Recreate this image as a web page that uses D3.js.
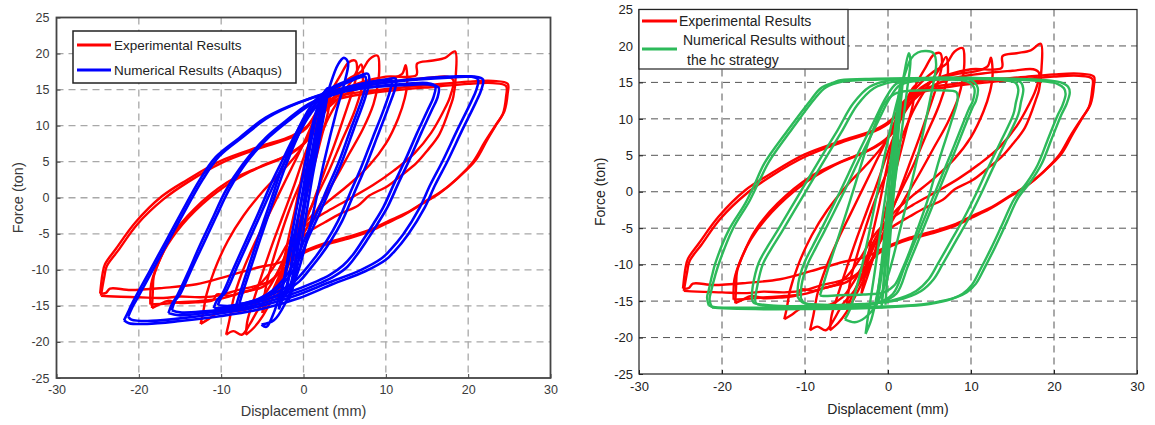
<!DOCTYPE html>
<html><head><meta charset="utf-8">
<script src="https://cdn.jsdelivr.net/npm/d3@7"></script>
<style>
body{margin:0;background:#fff;}
svg{display:block;font-family:"Liberation Sans",Arial,sans-serif;}
</style></head>
<body><svg id="c" width="1155" height="425"></svg>
<script>
// ---------- DATA ----------
const xTicks = [-30,-20,-10,0,10,20,30];
const yTicks = [-25,-20,-15,-10,-5,0,5,10,15,20,25];
const xLabel = "Displacement (mm)";
const yLabel = "Force (ton)";
const legendLeft = ["Experimental Results", "Numerical Results (Abaqus)"];
const legendRight = ["Experimental Results", "Numerical Results without", "the hc strategy"];

// Experimental results: cycles of [displacement, force]
const expR1a = [[-24.7,-13.3],[-24.4,-10.5],[-24.1,-9.2],[-22.8,-7.1],[-20.4,-3.4],[-17.2,0.2],[-14.1,2.5],[-10.1,5.1],[-5.3,7.1],[-1.4,8.6],[0.5,10],[2,12.5],[4,14],[8,14.8],[12,15.3],[16,15.7],[20,16.1],[23,16.2],[24.8,15.8],[24.8,14.5],[24.4,12],[23.5,10.3],[22.3,8],[20.9,5.2],[18.9,2.9],[16.9,1],[14.5,-0.7],[12.5,-2.1],[10.2,-3.3],[8.2,-4.4],[5.5,-5.4],[2.6,-6.3],[0.5,-7.2],[-1,-8],[-2,-8.6],[-3.5,-9.2],[-5.3,-9.6],[-9.3,-10.9],[-13,-12],[-17,-12.5],[-21,-12.8],[-23.5,-12.6],[-24,-13.2],[-24.7,-13.3]];
const expR1b = [[-24.6,-13.6],[-24.2,-11],[-23.9,-9.5],[-22.5,-7.3],[-20.2,-3.7],[-17,-0.2],[-14,2.2],[-10,4.8],[-5.5,6.8],[-1.6,8.3],[0.3,9.6],[1.8,12],[4,13.6],[8,14.5],[12,15],[16,15.4],[20,15.8],[23,15.9],[24.6,15.5],[24.6,14],[24.2,11.6],[23.3,10],[22,7.7],[20.6,5],[18.6,2.6],[16.6,0.7],[14.2,-1],[12.2,-2.4],[10,-3.6],[8,-4.7],[5.3,-5.7],[2.4,-6.6],[0.3,-7.5],[-1.2,-8.5],[-2.5,-10],[-4,-11.5],[-6,-12.3],[-8,-12.8],[-10,-13.5],[-12.5,-13.8],[-15,-13.7],[-17,-13.9],[-20,-13.8],[-23,-13.7],[-24.6,-13.6]];
const expR2a = [[-18.4,-15.3],[-18.3,-13],[-18.2,-11],[-17.6,-9],[-16,-5.3],[-13.3,-1.6],[-9.3,2.1],[-5.3,4.3],[-1.4,6.2],[0.5,8],[2,11],[3.5,13.5],[5,15],[7,16],[10,16.8],[13.7,17],[13.8,18.6],[15.5,19],[17.2,19.4],[18.4,20.3],[18.5,17],[18.2,14],[17.9,12.9],[16.5,8.8],[15,6.5],[13.7,4.8],[12,3.2],[10.2,1.6],[8,0.3],[6.6,-1.1],[4.5,-2.2],[2.6,-3.4],[0.8,-4.6],[-0.5,-5.8],[-1.5,-7],[-2.5,-9],[-3.5,-11],[-5,-12.4],[-7,-13],[-9,-13.6],[-10.5,-13.4],[-11,-14.2],[-13,-14.5],[-15,-14.6],[-16.5,-14.3],[-17.5,-14.8],[-18.4,-15.3]];
const expR2b = [[-18.6,-14.8],[-18.5,-12],[-17.8,-9.5],[-16.5,-6.5],[-14,-2.8],[-10.5,0.8],[-6.5,3.6],[-2.5,5.6],[0,7.5],[1.5,10],[3,12.5],[5,14.3],[8,15.6],[12,16.3],[15,16.6],[17.5,16.8],[18.2,16.3],[17.8,14],[17,12],[15.5,9],[13.5,6.2],[11,3.8],[8.5,1.8],[5.5,-0.2],[3,-1.8],[1,-3.2],[-0.8,-4.8],[-2,-6.5],[-3,-8.5],[-4.5,-11],[-6,-12.6],[-8,-13.3],[-10,-14],[-12.5,-14.3],[-15,-14.5],[-17,-14.7],[-18.6,-14.8]];
const expR3 = [[-12.5,-17.5],[-12.2,-16],[-11.8,-13.5],[-10.8,-10],[-9.2,-6],[-7.3,-2.5],[-5,0.8],[-2.5,3.8],[-0.5,6.5],[1,9.5],[2.5,12.5],[4,14.3],[6,15.5],[8.5,16.2],[10.5,16.5],[12,17.2],[12.4,18.4],[12.6,16],[12.3,13.8],[11.5,11],[10,7.5],[8,4.5],[5.5,1.8],[3,-0.5],[1,-2.5],[-0.5,-4.5],[-1.8,-7],[-3,-10],[-4.2,-12.5],[-5.5,-14.5],[-7,-15.5],[-9,-15.8],[-10.5,-16],[-11.5,-16.8],[-12.5,-17.5]];
const expR4 = [[-9.4,-19],[-9,-17],[-8.5,-14],[-7.5,-10.5],[-6,-6.5],[-4.5,-3],[-3,0.5],[-1.5,4],[0,7.5],[1.2,10.5],[2.5,13],[4,15],[5.5,16.5],[7,17.5],[8,19.2],[9,19.7],[9.2,18],[9,15.5],[8.5,13],[7.2,9.5],[5.5,6],[3.8,2.5],[2,-1],[0.5,-4],[-1,-7],[-2.5,-10.5],[-4,-13.5],[-5.5,-15.5],[-6.5,-17.5],[-7.5,-19],[-8.5,-18.5],[-9.4,-19]];
const expR5 = [[-7,-19],[-6.8,-17],[-6,-14],[-5,-10.5],[-3.8,-6.5],[-2.5,-2.5],[-1.2,1.5],[0,5.5],[1.2,9],[2.5,12.5],[3.5,15],[4.5,17],[5.5,18.8],[6.3,19],[6.5,17.5],[6,15],[5,11.5],[3.8,7.5],[2.5,3.5],[1.2,-0.5],[0,-4],[-1.2,-7.5],[-2.5,-11],[-3.8,-14],[-5,-16.5],[-6,-18],[-7,-19]];
const expR6 = [[-3.2,-14],[-2.6,-10],[-1.8,-5.5],[-1,-1.5],[-0.2,3],[0.6,7],[1.5,10.5],[2.4,13],[3.2,14.5],[3,12],[2.2,8.5],[1.3,4.5],[0.4,0.5],[-0.5,-3.5],[-1.4,-7.5],[-2.3,-11],[-3.2,-14]];
const expR7 = [[-5,-16],[-4.5,-12],[-3,-6],[-1.5,-1],[0,3],[1.5,7],[3,11],[4.5,14],[6,16.5],[7,18.5],[7.2,16],[6.2,12],[4.5,7.5],[3,3.5],[1.5,0],[0,-3.5],[-1.5,-7],[-3,-11],[-4.2,-14],[-5,-16]];
const experimental = [expR1a, expR1b, expR2a, expR2b, expR3, expR4, expR5, expR6, expR7];

// Numerical results (Abaqus)
const abqB1a = [[-21.8,-17],[-21.2,-15.6],[-20.7,-14.4],[-18.7,-10.2],[-16.7,-6],[-14.7,-1.8],[-12.7,2.3],[-10.7,5.6],[-7.8,8.3],[-4.6,11.1],[-0.6,13.2],[4,14.8],[9,15.8],[14,16.4],[18,16.7],[20.8,16.8],[21.8,16.4],[21.6,15],[21,13.4],[19.2,9.2],[17.5,5.1],[16,1.8],[14.7,-1.4],[12.7,-5.1],[11,-7.5],[10,-8.6],[7.5,-10.2],[3.5,-12],[-0.5,-13.9],[-5,-15.4],[-10,-16.4],[-15,-17.1],[-19,-17.5],[-21.2,-17.4],[-21.8,-17]];
const abqB1b = [[-21.3,-16.5],[-20.8,-15.2],[-20.2,-14],[-18.2,-9.8],[-16.2,-5.6],[-14.2,-1.4],[-12.2,2.6],[-10.2,5.8],[-7.3,8.5],[-4.2,11.2],[-0.3,13.3],[4,14.9],[9,15.9],[14,16.5],[18,16.8],[20.3,16.8],[21.2,16.4],[21,15],[20.4,13.4],[18.6,9.2],[16.9,5.1],[15.4,1.8],[14.1,-1.4],[12.1,-5.1],[10.5,-7.3],[9.5,-8.4],[7,-10],[3,-11.8],[-1,-13.6],[-5.5,-15.1],[-10.5,-16.1],[-15.5,-16.8],[-19,-17.1],[-20.9,-16.9],[-21.3,-16.5]];
const abqB2a = [[-16.4,-16],[-16,-14.8],[-15.5,-13.9],[-14,-10.3],[-12.7,-6.9],[-11.1,-3],[-9.5,0.9],[-7.4,4.6],[-4.6,8.3],[-2.2,10.6],[0.6,13],[4,14.5],[8,15.3],[12,15.6],[15.2,15.7],[16.4,15.3],[16.3,14],[15.6,12.2],[14.3,9],[13,5.6],[11.6,2.2],[10.2,-1.3],[9,-3.6],[7.7,-5.9],[6.5,-7.9],[5.3,-9.6],[3.7,-10.9],[2.1,-11.8],[-2,-13.6],[-7,-15.2],[-12,-16],[-15.2,-16.3],[-16.4,-16]];
const abqB2b = [[-16,-15.6],[-15.6,-14.3],[-15,-13.4],[-13.6,-9.9],[-12.2,-6.5],[-10.6,-2.6],[-9,1.2],[-7,4.8],[-4.2,8.4],[-1.8,10.7],[1,13],[4.5,14.6],[8.5,15.4],[12.5,15.8],[15,15.9],[16,15.5],[15.8,14],[15.1,12.2],[13.8,9],[12.5,5.6],[11.1,2.2],[9.7,-1.3],[8.5,-3.6],[7.2,-5.9],[6,-7.9],[4.8,-9.4],[3.2,-10.7],[1.6,-11.6],[-2.5,-13.4],[-7.5,-15],[-12.5,-15.8],[-15,-15.9],[-16,-15.6]];
const abqB3a = [[-10.9,-15.3],[-10.5,-14.2],[-9.9,-13.4],[-8.5,-9.8],[-7,-6],[-5.4,-1.9],[-3.8,2.3],[-2.6,5.1],[-1.4,7.9],[0.2,11.1],[1.8,13.4],[4,14.9],[7,15.8],[10,16.4],[11.2,16.5],[11.2,15.5],[10.3,12.5],[8.9,8.3],[7.5,4.2],[6.1,0.5],[4.7,-3.2],[3.3,-6],[1.9,-8.3],[0.7,-10],[-0.5,-11.6],[-3,-13.4],[-6,-14.6],[-9,-15.3],[-10.9,-15.3]];
const abqB3b = [[-10.4,-14.9],[-10,-13.8],[-9.4,-13],[-8,-9.4],[-6.5,-5.6],[-4.9,-1.5],[-3.3,2.6],[-2.1,5.4],[-0.9,8.1],[0.6,11.2],[2.2,13.4],[4.4,14.9],[7.2,15.8],[9.8,16.3],[10.7,16.2],[10.6,15.2],[9.8,12.4],[8.4,8.3],[7,4.2],[5.6,0.5],[4.2,-3.2],[2.8,-6],[1.4,-8.3],[0.2,-10],[-1,-11.5],[-3.4,-13.2],[-6.4,-14.4],[-9,-15],[-10.4,-14.9]];
const abqB4a = [[-8.2,-15],[-7.8,-13.5],[-6.8,-10],[-5.5,-5.5],[-4,-0.5],[-2.7,3.8],[-1.4,7.5],[0,11],[1.5,13.6],[3.5,15.3],[5.5,16.3],[7,17],[7.8,17.2],[8,16.2],[7.5,13.9],[6.1,9.5],[4.7,5.1],[3.3,1.4],[1.9,-2.3],[0.6,-5.5],[-0.5,-8.5],[-1.8,-11],[-3.5,-13],[-5.5,-14.3],[-7,-14.8],[-8.2,-15]];
const abqB4b = [[-7.8,-14.7],[-7.4,-13.2],[-6.4,-9.7],[-5.1,-5.2],[-3.6,-0.2],[-2.3,4],[-1,7.7],[0.4,11.1],[1.9,13.6],[3.8,15.2],[5.6,16.1],[6.9,16.7],[7.5,16.8],[7.6,15.9],[7.1,13.7],[5.7,9.4],[4.3,5],[2.9,1.3],[1.5,-2.4],[0.2,-5.6],[-0.9,-8.6],[-2.2,-11],[-3.8,-12.9],[-5.6,-14.1],[-7,-14.6],[-7.8,-14.7]];
const abqB5 = [[-5.1,-17.6],[-4.5,-17.9],[-3.8,-16.5],[-2.5,-12],[-1.1,-5],[0.4,3],[1.9,10],[3.2,15.5],[4.2,18.5],[4.9,19.4],[5.4,18.8],[5.1,16.5],[4,12],[2.5,5],[1,-3],[-0.6,-10],[-2.2,-14.6],[-3.6,-17],[-5.1,-17.6]];
const abqB6a = [[-2.2,-13.5],[-1.6,-10],[-0.8,-4],[0,1.5],[0.8,7],[1.6,11.5],[2.3,13.8],[2.6,14.5],[2.3,12.5],[1.5,8],[0.7,2.5],[-0.1,-3],[-0.9,-8.5],[-1.7,-12.5],[-2.2,-13.5]];
const abqB6b = [[-1.8,-14.2],[-1.2,-10.5],[-0.4,-4],[0.4,2],[1.2,7.5],[2,12],[2.6,14.3],[2.9,15],[2.7,13],[2,8.5],[1.1,3],[0.3,-2.5],[-0.5,-8],[-1.3,-12.5],[-1.8,-14.2]];
const abqB6c = [[-3,-15.5],[-2.3,-11],[-1.4,-5],[-0.5,0.5],[0.4,6],[1.3,11],[2.2,14],[3,15.2],[2.8,13.5],[2,9.5],[1,4],[0,-1.5],[-1,-7],[-2,-12],[-3,-15.5]];
const abaqus = [abqB1a, abqB1b, abqB2a, abqB2b, abqB3a, abqB3b, abqB4a, abqB4b, abqB5, abqB6a, abqB6b, abqB6c];

// Numerical results without the hc strategy
const nhcG1a = [[-21.6,-15.6],[-21.8,-14.5],[-21.6,-13.5],[-21.2,-11.5],[-20.8,-9.8],[-19.2,-5.3],[-17.2,-1.6],[-16,1.2],[-14.9,3.9],[-12.1,8.4],[-9.3,12.6],[-8.1,14.2],[-6.5,15],[-5.7,15.3],[-1.4,15.5],[5,15.6],[10,15.6],[15,15.5],[19,15.3],[20.8,15],[21.7,14.4],[21.9,13.6],[21.5,12],[20.9,10.6],[19.7,7.2],[18.5,3.8],[17.2,1.4],[15.7,-0.8],[14.3,-4.2],[12.9,-7.6],[11.7,-10.3],[10.6,-12.6],[9.5,-13.8],[8.2,-14.5],[5.5,-15.2],[2.6,-15.6],[-3,-15.8],[-10,-15.9],[-16,-15.9],[-19.5,-15.9],[-21,-15.8],[-21.6,-15.6]];
const nhcG1b = [[-21.2,-15.9],[-21.5,-14.8],[-21.3,-13.6],[-20.8,-11.4],[-20.3,-9.6],[-18.7,-5.1],[-16.7,-1.3],[-15.5,1.5],[-14.3,4.2],[-11.5,8.7],[-8.8,12.8],[-7.5,14.3],[-5.5,15.1],[-1,15.4],[5,15.5],[10,15.5],[15,15.4],[19,15.1],[20.4,14.8],[21.2,14.2],[21.4,13.4],[21,11.8],[20.4,10.4],[19.2,7],[18,3.6],[16.7,1.2],[15.2,-1],[13.8,-4.4],[12.4,-7.8],[11.2,-10.5],[10.1,-12.8],[9,-14],[7.7,-14.7],[5,-15.4],[2,-15.7],[-3,-16],[-10,-16.1],[-16,-16.1],[-19.8,-16],[-21.2,-15.9]];
const nhcG2a = [[-16.4,-14.4],[-16.3,-13],[-15.6,-9.8],[-14.5,-7.5],[-13.3,-5.3],[-10.9,-0.7],[-8.5,3.9],[-6.1,8.4],[-4.2,12.1],[-2.2,14.4],[0.2,15.3],[5,15.6],[10,15.6],[14.5,15.4],[16,15],[16.3,14.1],[16,12.2],[15.7,10.6],[14.1,6.7],[12.5,2.9],[11.2,-0.3],[9.8,-3.5],[8.2,-6.7],[6.6,-9.9],[5.5,-12],[4,-13.6],[1,-14.9],[-3,-15.4],[-8,-15.6],[-12,-15.7],[-15,-15.5],[-16.2,-15.2],[-16.4,-14.4]];
const nhcG2b = [[-16,-14.6],[-15.8,-13.2],[-15.1,-10],[-14,-7.7],[-12.8,-5.5],[-10.4,-0.9],[-8,3.7],[-5.6,8.2],[-3.7,11.9],[-1.7,14.2],[0.7,15.1],[5,15.4],[10,15.5],[14,15.3],[15.4,14.9],[15.7,14],[15.4,12.2],[15.1,10.6],[13.5,6.7],[11.9,2.9],[10.6,-0.3],[9.2,-3.5],[7.6,-6.7],[6,-9.9],[4.9,-12],[3.4,-13.6],[0.5,-14.9],[-3.5,-15.5],[-8.5,-15.7],[-12.5,-15.7],[-15,-15.6],[-15.9,-15.3],[-16,-14.6]];
const nhcG3a = [[-10.9,-14.4],[-10.8,-12.5],[-10.1,-9.8],[-9.1,-7.5],[-8.1,-5.3],[-5.7,0.2],[-3.8,4.8],[-1.8,9.4],[-0.2,13],[1,14.8],[3,15.4],[7,15.6],[10,15.3],[10.8,14.3],[10.6,12.5],[10.2,11.6],[8.4,6.5],[6.6,1.5],[5.2,-2.4],[3.8,-6.3],[2.4,-10.2],[1,-14],[-1,-15.2],[-4,-15.5],[-8,-15.5],[-10.3,-15.2],[-10.9,-14.4]];
const nhcG3b = [[-10.5,-14.6],[-10.4,-12.7],[-9.7,-10],[-8.7,-7.7],[-7.7,-5.5],[-5.3,0],[-3.4,4.6],[-1.4,9.2],[0.2,12.8],[1.4,14.6],[3.4,15.2],[7,15.4],[9.6,15.1],[10.4,14.2],[10.2,12.4],[9.8,11.5],[8,6.4],[6.2,1.4],[4.8,-2.5],[3.4,-6.4],[2,-10.3],[0.6,-14],[-1.4,-15.3],[-4.4,-15.6],[-8.2,-15.6],[-10,-15.3],[-10.5,-14.6]];
const nhcG4 = [[-8.2,-14.2],[-8,-13.5],[-7.2,-10.5],[-6.2,-7],[-5,-2.8],[-3.8,1.6],[-2.6,6],[-1.5,9.4],[-0.5,12],[0.8,13.4],[2.1,13.8],[4,13.9],[6.5,13.9],[8.2,13.7],[8.4,12.8],[7.6,9.5],[6.2,4.5],[4.9,-0.7],[3.6,-5],[2.5,-8.5],[1.7,-10.7],[0.8,-12.8],[-0.5,-13.8],[-3,-14.1],[-6,-14.2],[-7.8,-14.3],[-8.2,-14.2]];
const nhcG5 = [[-5.2,-17.5],[-4.6,-16.2],[-3.2,-10.5],[-1.8,-3],[-0.4,5],[0.9,11.5],[2,16],[2.8,18.3],[3.6,19.1],[4.6,19.3],[5.5,19],[5.8,17.5],[5.4,14.5],[4.4,9],[3,2],[1.5,-5],[0,-11.5],[-1.4,-15.5],[-2.8,-17.3],[-4,-17.9],[-5.2,-17.5]];
const nhcG6 = [[-2.7,-19.5],[-2.4,-17],[-1.6,-11],[-0.6,-3],[0.4,5],[1.3,12],[2,16.5],[2.5,19],[2.7,18],[2.3,14],[1.5,7],[0.6,-0.5],[-0.4,-8],[-1.3,-14],[-2,-17.5],[-2.7,-19.5]];
const nhcG7a = [[-0.8,-16],[-0.3,-9],[0.2,-2],[0.7,5],[1.1,11],[1.5,15],[1.4,13],[0.9,6],[0.4,-1],[-0.1,-8],[-0.6,-14],[-0.8,-16]];
const nhcG7b = [[-0.3,-15.5],[0.1,-8],[0.5,0],[0.9,7],[1.3,13],[1.7,15.3],[1.5,12],[1,4],[0.5,-3],[0,-10],[-0.3,-15.5]];
const nhcG7c = [[-1.5,-16],[-0.8,-10],[-0.1,-2],[0.6,6],[1.2,12],[1.8,15.5],[1.6,13],[0.9,5],[0.1,-3],[-0.6,-10],[-1.2,-14.5],[-1.5,-16]];
const noHc = [nhcG1a, nhcG1b, nhcG2a, nhcG2b, nhcG3a, nhcG3b, nhcG4, nhcG5, nhcG6, nhcG7a, nhcG7b, nhcG7c];

// ---------- DRAW ----------
const svg = d3.select("#c");

function panel(cfg){
  const x = d3.scaleLinear().domain([-30,30]).range([cfg.x0, cfg.x1]);
  const y = d3.scaleLinear().domain([-25,25]).range([cfg.y1, cfg.y0]);
  const g = svg.append("g");
  // grid
  g.append("g").selectAll("line").data(xTicks.slice(1,-1)).join("line")
    .attr("x1", d=>x(d)).attr("x2", d=>x(d)).attr("y1", cfg.y0).attr("y2", cfg.y1)
    .attr("stroke", cfg.grid).attr("stroke-width", cfg.gridW).attr("stroke-dasharray", cfg.dash);
  g.append("g").selectAll("line").data(yTicks.slice(1,-1)).join("line")
    .attr("y1", d=>y(d)).attr("y2", d=>y(d)).attr("x1", cfg.x0).attr("x2", cfg.x1)
    .attr("stroke", cfg.grid).attr("stroke-width", cfg.gridW).attr("stroke-dasharray", cfg.dash);
  // series
  const line = d3.line().x(d=>x(d[0])).y(d=>y(d[1])).curve(d3.curveCatmullRom.alpha(0.5));
  cfg.series.forEach(s=>{
    g.append("g").selectAll("path").data(s.loops).join("path")
      .attr("d", line).attr("fill","none").attr("stroke", s.color)
      .attr("stroke-width", s.width).attr("stroke-linejoin","round");
  });
  // axes
  const fmt = d => String(d);
  const ax = g.append("g").attr("transform",`translate(0,${cfg.y1})`)
    .call(d3.axisBottom(x).tickValues(xTicks).tickFormat(fmt).tickSize(-4).tickPadding(cfg.xPad));
  const ay = g.append("g").attr("transform",`translate(${cfg.x0},0)`)
    .call(d3.axisLeft(y).tickValues(yTicks).tickFormat(fmt).tickSize(-4).tickPadding(cfg.yPad));
  [ax, ay].forEach(a=>{
    a.select(".domain").remove();
    a.selectAll("line").attr("stroke", cfg.frame);
    a.selectAll("text").attr("fill", cfg.text).style("font-size", cfg.tickFont+"px")
      .style("font-family","'Liberation Sans',Arial,sans-serif");
  });
  // frame
  g.append("rect").attr("x",cfg.x0).attr("y",cfg.y0).attr("width",cfg.x1-cfg.x0).attr("height",cfg.y1-cfg.y0)
    .attr("fill","none").attr("stroke",cfg.frame).attr("stroke-width",cfg.frameW);
  // labels
  g.append("text").attr("x",(cfg.x0+cfg.x1)/2).attr("y",cfg.xLabY).attr("text-anchor","middle")
    .attr("fill",cfg.text).style("font-size",cfg.labFont+"px").text(xLabel);
  g.append("text").attr("transform",`translate(${cfg.yLabX},${(cfg.y0+cfg.y1)/2}) rotate(-90)`)
    .attr("text-anchor","middle").attr("fill",cfg.text).style("font-size",cfg.labFont+"px").text(yLabel);
  return {g,x,y};
}

const L = panel({x0:56.5,x1:550.5,y0:17.5,y1:378,grid:"#a8a8a8",gridW:1.3,dash:"7,5",frame:"#444",frameW:1.8,
  text:"#3a3a3a",tickFont:12.5,labFont:14.5,xPad:7,yPad:7,xLabY:416,yLabX:23,
  series:[{loops:experimental,color:"#ff0000",width:2.4},{loops:abaqus,color:"#0000ff",width:2.6}]});
const R = panel({x0:639,x1:1137,y0:9.5,y1:374,grid:"#555",gridW:1,dash:"7,5",frame:"#222",frameW:1.2,
  text:"#222",tickFont:13,labFont:14,xPad:8,yPad:6,xLabY:414,yLabX:605,
  series:[{loops:experimental,color:"#ff0000",width:2.4},{loops:noHc,color:"#2dba5a",width:2.4}]});

// legends
function legend(box, items){
  const g = svg.append("g");
  g.append("rect").attr("x",box.x).attr("y",box.y).attr("width",box.w).attr("height",box.h)
    .attr("fill","#fff").attr("stroke",box.stroke).attr("stroke-width",box.sw);
  items.forEach(it=>{
    if(it.color) g.append("line").attr("x1",it.lx0).attr("x2",it.lx1).attr("y1",it.ly).attr("y2",it.ly)
      .attr("stroke",it.color).attr("stroke-width",3);
    g.append("text").attr("x",it.tx).attr("y",it.ty).attr("dy","0.35em").attr("fill","#222")
      .style("font-size",box.font+"px").text(it.text);
  });
}
legend({x:73,y:31,w:223,h:52,stroke:"#222",sw:1.5,font:13.5},[
  {color:"#ff0000",lx0:77,lx1:111,ly:45,tx:114,ty:45,text:legendLeft[0]},
  {color:"#0000ff",lx0:77,lx1:111,ly:70,tx:114,ty:70,text:legendLeft[1]}]);
legend({x:639,y:9.5,w:209,h:59.5,stroke:"#222",sw:1.2,font:14},[
  {color:"#ff0000",lx0:642,lx1:677,ly:21,tx:679,ty:21,text:legendRight[0]},
  {color:"#2dba5a",lx0:642,lx1:677,ly:49,tx:683,ty:40,text:legendRight[1]},
  {color:null,tx:687,ty:60,text:legendRight[2]}]);
</script></body></html>
